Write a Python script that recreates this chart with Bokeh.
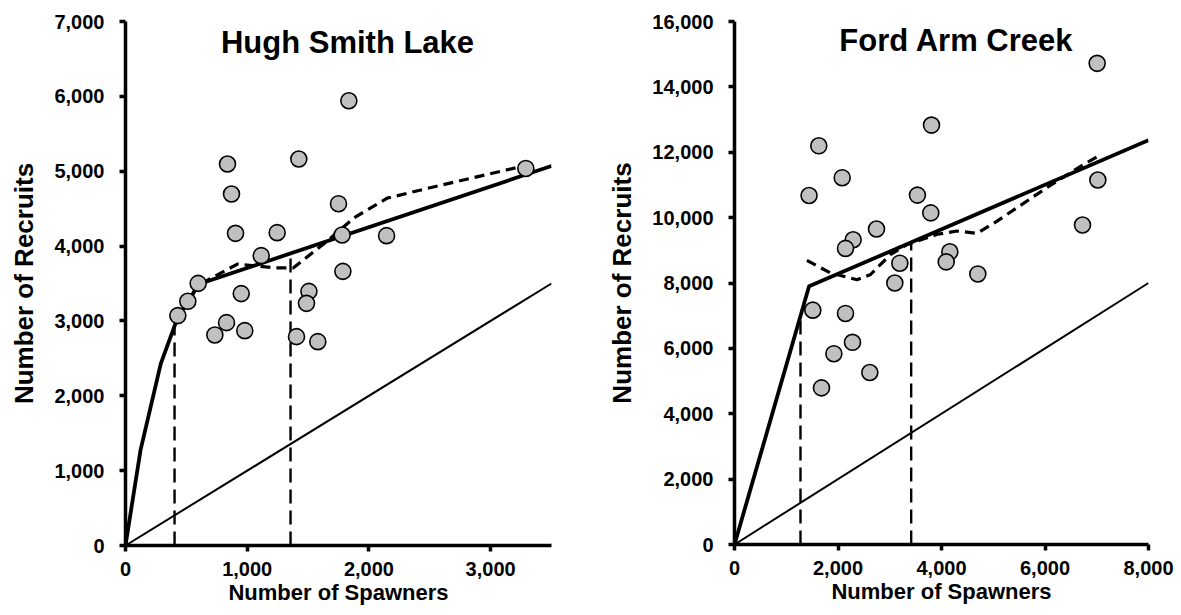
from bokeh.plotting import figure
from bokeh.layouts import row
from bokeh.models import Range1d, NumeralTickFormatter, FixedTicker, Label
from bokeh.embed import file_html
from bokeh.resources import INLINE

# ---------------- Hugh Smith Lake ----------------
hs_spawners = [1835, 838, 871, 1424, 1750, 904, 1246, 1780, 2145, 1115, 3289, 1786,
               597, 951, 1507, 512, 430, 1487, 830, 734, 980, 1405, 1580]
hs_recruits = [5941, 5096, 4696, 5163, 4566, 4170, 4179, 4148, 4139, 3872, 5037, 3662,
               3502, 3365, 3395, 3262, 3071, 3235, 2977, 2813, 2870, 2790, 2723]
hs_fit_s = [0, 123, 290, 430, 520, 600, 3500]
hs_fit_r = [0, 1270, 2430, 3050, 3270, 3490, 5070]
hs_smooth_s = [400, 600, 920, 1220, 1380, 1660, 1880, 2150, 2530, 3300]
hs_smooth_r = [2980, 3480, 3760, 3710, 3710, 4070, 4380, 4640, 4790, 5080]
hs_ref_x = [403, 1356]
hs_ref_top = [2930, 3900]
hs_repl = [0, 3500]

# ---------------- Ford Arm Creek ----------------
fa_spawners = [7008, 3807, 1629, 2081, 1441, 3535, 3793, 7021, 6725, 2744, 2293, 2145,
               3195, 4161, 4091, 4702, 3098, 1513, 2145, 2280, 1920, 2615, 1681]
fa_recruits = [14720, 12831, 12197, 11222, 10677, 10689, 10145, 11151, 9775, 9652, 9323, 9058,
               8606, 8954, 8646, 8277, 8000, 7169, 7068, 6185, 5837, 5262, 4791]
fa_fit_s = [0, 1441, 8000]
fa_fit_r = [0, 7898, 12370]
fa_smooth_s = [1400, 1850, 2370, 2630, 3010, 3340, 3920, 4300, 4690, 5080, 6040, 6760, 7050]
fa_smooth_r = [8690, 8310, 8100, 8260, 8870, 9180, 9490, 9590, 9520, 9900, 10920, 11640, 11900]
fa_ref_x = [1275, 3414]
fa_ref_top = [6990, 9240]
fa_repl = [0, 8000]

FONT = "Liberation Sans"


def make_panel(title, xmax, ymax, xstep, ystep, spawners, recruits, fit_s, fit_r,
               sm_s, sm_r, ref_x, ref_top, repl, fw, fh, bl, br, bt, bb, title_x, title_y):
    p = figure(frame_width=fw, frame_height=fh, min_border_left=bl, min_border_right=br,
               min_border_top=bt, min_border_bottom=bb,
               x_range=Range1d(0, xmax), y_range=Range1d(0, ymax),
               output_backend="svg", toolbar_location=None, tools="")
    p.outline_line_color = None
    p.grid.visible = False
    p.background_fill_color = "white"
    p.border_fill_color = "white"

    # replacement (1:1) line
    p.line(repl, repl, line_color="black", line_width=2)
    # reference vertical dashed lines
    p.segment(x0=ref_x, y0=[0] * len(ref_x), x1=ref_x, y1=ref_top,
              line_color="black", line_width=2.4, line_dash="14 7")
    # fitted curve
    p.line(fit_s, fit_r, line_color="black", line_width=3.8, line_join="round")
    # smooth (dashed)
    p.line(sm_s, sm_r, line_color="black", line_width=3.2, line_dash="10 6")
    # observations
    p.scatter(spawners, recruits, size=16, fill_color="#c0c0c0", line_color="black",
              line_width=1.6)

    for ax in (p.xaxis[0], p.yaxis[0]):
        ax.axis_line_width = 3.5
        ax.major_tick_line_width = 3.5
        ax.major_tick_in = 0
        ax.major_tick_out = 6
        ax.minor_tick_line_color = None
        ax.major_label_text_font = FONT
        ax.major_label_text_font_style = "bold"
        ax.major_label_text_font_size = "20px"
        ax.major_label_text_color = "black"
        ax.axis_label_text_font = FONT
        ax.axis_label_text_font_style = "bold"
        ax.axis_label_text_color = "black"
        ax.formatter = NumeralTickFormatter(format="0,0")

    p.xaxis.ticker = FixedTicker(ticks=list(range(0, xmax + 1, xstep)))
    p.yaxis.ticker = FixedTicker(ticks=list(range(0, ymax + 1, ystep)))
    p.xaxis.axis_label = "Number of Spawners"
    p.yaxis.axis_label = "Number of Recruits"
    p.xaxis.axis_label_text_font_size = "22px"
    p.yaxis.axis_label_text_font_size = "26px"
    p.xaxis.major_label_standoff = 10
    p.yaxis.major_label_standoff = 15
    p.xaxis.axis_label_standoff = 1
    p.yaxis.axis_label_standoff = 12

    p.add_layout(Label(x=title_x, y=title_y, x_units="screen", y_units="screen",
                       text=title, text_font=FONT, text_font_style="bold",
                       text_font_size="31px", text_align="center",
                       text_baseline="middle", text_color="black"))
    return p


p1 = make_panel("Hugh Smith Lake", 3500, 7000, 1000, 1000, hs_spawners, hs_recruits,
                hs_fit_s, hs_fit_r, hs_smooth_s, hs_smooth_r, hs_ref_x, hs_ref_top, hs_repl,
                426, 524, 125, 50, 21, 69, 222, 503)
p2 = make_panel("Ford Arm Creek", 8000, 16000, 2000, 2000, fa_spawners, fa_recruits,
                fa_fit_s, fa_fit_r, fa_smooth_s, fa_smooth_r, fa_ref_x, fa_ref_top, fa_repl,
                414, 523, 133, 28, 19, 72, 222, 504)

layout = row(p1, p2)
open("out.html", "w").write(file_html(layout, INLINE))
